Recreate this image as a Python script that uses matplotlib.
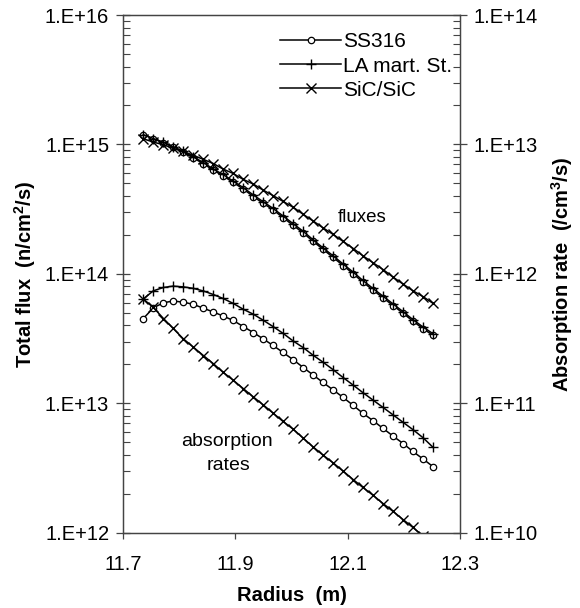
import matplotlib
matplotlib.use("Agg")
import matplotlib.pyplot as plt
import numpy as np
from matplotlib.ticker import FuncFormatter, LogLocator, NullFormatter

plt.rcParams['font.family'] = ['Liberation Sans', 'DejaVu Sans']
plt.rcParams['mathtext.fontset'] = 'custom'
plt.rcParams['mathtext.rm'] = 'Liberation Sans'
plt.rcParams['mathtext.bf'] = 'Liberation Sans:bold'

radius = [11.736, 11.754, 11.772, 11.789, 11.807, 11.825, 11.843, 11.861, 11.878, 11.896,
          11.914, 11.932, 11.949, 11.967, 11.985, 12.003, 12.021, 12.038, 12.056, 12.074,
          12.092, 12.110, 12.127, 12.145, 12.163, 12.181, 12.199, 12.216, 12.234, 12.252]

flux_ss316 = [1.19e15, 1.107e15, 1.03e15, 9.55e14, 8.71e14, 7.87e14, 7.11e14, 6.31e14, 5.73e14, 5.09e14,
              4.53e14, 3.96e14, 3.52e14, 3.13e14, 2.72e14, 2.37e14, 2.07e14, 1.79e14, 1.55e14, 1.34e14,
              1.16e14, 1.00e14, 8.65e13, 7.50e13, 6.53e13, 5.69e13, 4.95e13, 4.32e13, 3.78e13, 3.35e13]
flux_la = [1.19e15, 1.11e15, 1.04e15, 9.62e14, 8.87e14, 8.02e14, 7.25e14, 6.44e14, 5.86e14, 5.21e14,
           4.64e14, 4.07e14, 3.62e14, 3.21e14, 2.80e14, 2.44e14, 2.13e14, 1.84e14, 1.59e14, 1.38e14,
           1.19e14, 1.03e14, 8.90e13, 7.72e13, 6.72e13, 5.85e13, 5.09e13, 4.44e13, 3.89e13, 3.45e13]
flux_sic = [1.107e15, 1.042e15, 9.95e14, 9.33e14, 8.83e14, 8.24e14, 7.67e14, 7.11e14, 6.46e14, 5.97e14,
            5.37e14, 4.94e14, 4.45e14, 4.03e14, 3.63e14, 3.27e14, 2.88e14, 2.57e14, 2.27e14, 2.02e14,
            1.78e14, 1.57e14, 1.38e14, 1.22e14, 1.08e14, 9.42e13, 8.32e13, 7.41e13, 6.68e13, 5.92e13]

abs_ss316 = [4.51e11, 5.47e11, 5.98e11, 6.17e11, 6.05e11, 5.82e11, 5.43e11, 5.07e11, 4.73e11, 4.37e11,
             3.92e11, 3.52e11, 3.16e11, 2.80e11, 2.47e11, 2.17e11, 1.89e11, 1.66e11, 1.45e11, 1.27e11,
             1.11e11, 9.62e10, 8.38e10, 7.35e10, 6.40e10, 5.57e10, 4.88e10, 4.25e10, 3.72e10, 3.24e10]
abs_la = [6.40e11, 7.40e11, 7.85e11, 8.04e11, 7.94e11, 7.73e11, 7.38e11, 6.92e11, 6.46e11, 5.92e11,
          5.33e11, 4.88e11, 4.40e11, 3.92e11, 3.47e11, 3.03e11, 2.69e11, 2.36e11, 2.08e11, 1.82e11,
          1.58e11, 1.38e11, 1.21e11, 1.06e11, 9.29e10, 8.13e10, 7.11e10, 6.27e10, 5.43e10, 4.57e10]
abs_sic = [6.40e11, 5.50e11, 4.52e11, 3.80e11, 3.16e11, 2.72e11, 2.34e11, 2.02e11, 1.74e11, 1.51e11,
           1.30e11, 1.12e11, 9.77e10, 8.41e10, 7.24e10, 6.31e10, 5.37e10, 4.62e10, 3.98e10, 3.47e10,
           2.99e10, 2.57e10, 2.24e10, 1.95e10, 1.68e10, 1.46e10, 1.26e10, 1.10e10, 9.44e9, 8.13e9]

series_names = ["SS316", "LA mart. St.", "SiC/SiC"]
x_ticks = [11.7, 11.9, 12.1, 12.3]

fig = plt.figure(figsize=(5.8, 6.08), dpi=100)
ax = fig.add_axes([0.2121, 0.1238, 0.581, 0.8515])
ax2 = ax.twinx()

lw = 1.1
styles = [dict(marker='o', ms=4.6, mfc='white', mec='black', mew=0.9),
          dict(marker='+', ms=7, mec='black', mew=1.0),
          dict(marker='x', ms=7.3, mec='black', mew=1.0)]

handles = []
for ys, st, name in zip([flux_ss316, flux_la, flux_sic], styles, series_names):
    h, = ax.plot(radius, ys, color='black', lw=lw, label=name, **st)
    handles.append(h)
for ys, st in zip([abs_ss316, abs_la, abs_sic], styles):
    ax2.plot(radius, ys, color='black', lw=lw, **st)

ax.set_yscale('log')
ax2.set_yscale('log')
ax.set_xlim(11.7, 12.3)
ax.set_ylim(1e12, 1e16)
ax2.set_ylim(1e10, 1e14)

fmt = FuncFormatter(lambda v, p: "1.E+%d" % int(round(np.log10(v))))
for a in (ax, ax2):
    a.yaxis.set_major_locator(LogLocator(base=10, numticks=10))
    a.yaxis.set_minor_locator(LogLocator(base=10, subs=np.arange(2, 10), numticks=20))
    a.yaxis.set_major_formatter(fmt)
    a.yaxis.set_minor_formatter(NullFormatter())
    for s in a.spines.values():
        s.set_color('#444444')
        s.set_linewidth(0.9)

ax.set_xticks(x_ticks)
ax.set_xticklabels(["%.1f" % v for v in x_ticks])
ax.tick_params(axis='x', which='major', direction='out', length=4, width=0.9,
               labelsize=14.5, pad=12, color='#444444')
ax.tick_params(axis='y', which='major', direction='inout', length=10, width=0.9,
               labelsize=14.5, pad=5, color='#444444')
ax.tick_params(axis='y', which='minor', direction='in', length=5, width=0.8, color='#444444')
ax2.tick_params(axis='y', which='major', direction='inout', length=10, width=0.9,
                labelsize=14.5, pad=5, color='#444444')
ax2.tick_params(axis='y', which='minor', direction='in', length=5, width=0.8, color='#444444')

ax.set_xlabel("Radius  (m)", fontsize=14.5, fontweight='bold', labelpad=9)
ax.set_ylabel(r"Total flux  (n/cm$\mathbf{^2}$/s)", fontsize=14.5, fontweight='bold', labelpad=5)
ax2.set_ylabel(r"Absorption rate  (/cm$\mathbf{^3}$/s)", fontsize=14.5, fontweight='bold', labelpad=8)

ax.text(361.7 / 580, 1 - 218 / 608, "fluxes", transform=fig.transFigure,
        ha='center', va='center', fontsize=13.5)
ax.text(227 / 580, 1 - 441.7 / 608, "absorption", transform=fig.transFigure,
        ha='center', va='center', fontsize=14)
ax.text(228 / 580, 1 - 465 / 608, "rates", transform=fig.transFigure,
        ha='center', va='center', fontsize=14)

leg = ax2.legend(handles, series_names, loc='upper left',
                 bbox_to_anchor=(272 / 580, 1 - 24 / 608), bbox_transform=fig.transFigure,
                 frameon=False, fontsize=15, handlelength=2.9, handletextpad=0.1,
                 labelspacing=0.25, numpoints=1, borderaxespad=0)

fig.savefig("out.png", dpi=100)
